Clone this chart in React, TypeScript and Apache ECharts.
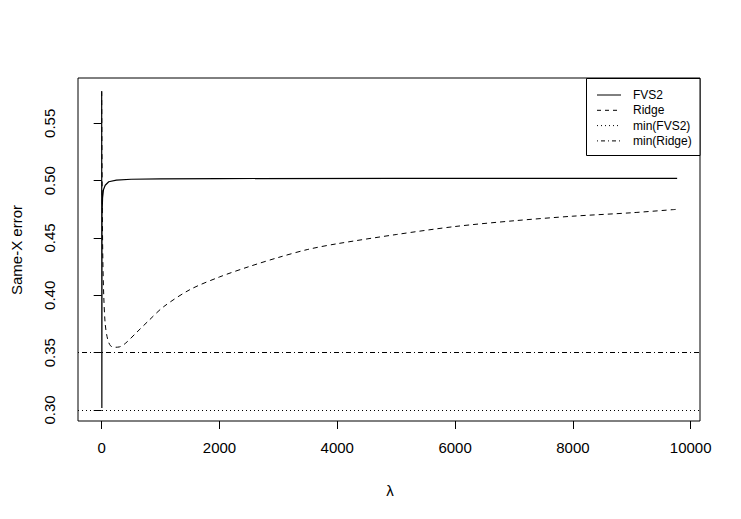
import React, { useEffect, useRef } from "react";
import * as echarts from "echarts";

const xTicks = [0, 2000, 4000, 6000, 8000, 10000];
const yTicks = [0.3, 0.35, 0.4, 0.45, 0.5, 0.55];

const fvs2Lambda = [0, 3, 6, 15, 30, 60, 120, 250, 500, 1000, 2000, 5000, 9770];
const fvs2Error = [0.578, 0.3017, 0.47, 0.485, 0.492, 0.496, 0.499, 0.5005, 0.5012, 0.5016, 0.5018, 0.502, 0.502];

const ridgeLambda = [0, 10, 20, 35, 60, 100, 150, 220, 300, 400, 600, 800, 1050, 1500, 2000, 2500, 3000, 3500, 4000, 5000, 6000, 7000, 8000, 9000, 9770];
const ridgeError = [0.578, 0.48, 0.43, 0.4, 0.375, 0.362, 0.356, 0.3547, 0.355, 0.358, 0.368, 0.378, 0.39, 0.405, 0.416, 0.425, 0.433, 0.44, 0.445, 0.453, 0.46, 0.465, 0.469, 0.472, 0.475];

const minFVS2 = 0.3017;
const minRidge = 0.355;

const legendNames = ["FVS2", "Ridge", "min(FVS2)", "min(Ridge)"];
const legendDash: (number[] | null)[] = [null, [4, 4], [1, 3], [1, 3, 4, 3]];

const FONT = "'Liberation Sans', Arial, Helvetica, sans-serif";

export default function App() {
  const ref = useRef<HTMLDivElement>(null);
  useEffect(() => {
    if (!ref.current) return;
    const chart = echarts.init(ref.current, null, { renderer: "svg" });
    const legendGraphics: any[] = [
      {
        type: "rect",
        shape: { x: 586.5, y: 78.5, width: 113.5, height: 77 },
        style: { fill: "#fff", stroke: "#000", lineWidth: 1 },
        z: 100,
      },
    ];
    legendNames.forEach((name, i) => {
      const y = 95 + i * 15.3;
      legendGraphics.push({
        type: "line",
        shape: { x1: 597, y1: y, x2: 621, y2: y },
        style: { stroke: "#000", lineWidth: 1, lineDash: legendDash[i] || undefined },
        z: 101,
      });
      legendGraphics.push({
        type: "text",
        x: 633,
        y: y,
        style: { text: name, fill: "#000", font: `12px ${FONT}`, textVerticalAlign: "middle", textAlign: "left" },
        z: 101,
      });
    });

    chart.setOption({
      animation: false,
      backgroundColor: "#fff",
      grid: { left: 78, right: 41, top: 78, bottom: 98, show: true, borderColor: "#000", borderWidth: 1, backgroundColor: "transparent" },
      xAxis: {
        type: "value",
        min: -402,
        max: 10158,
        splitLine: { show: false },
        axisLine: { show: false },
        axisTick: { show: true, length: 8, customValues: xTicks, lineStyle: { color: "#000" } },
        axisLabel: { customValues: xTicks, color: "#000", fontSize: 15, fontFamily: FONT, margin: 19, formatter: (v: number) => String(v) },
      },
      yAxis: {
        type: "value",
        min: 0.2904,
        max: 0.5895,
        splitLine: { show: false },
        axisLine: { show: false },
        axisTick: { show: true, length: 8, customValues: yTicks, lineStyle: { color: "#000" } },
        axisLabel: {
          customValues: yTicks,
          rotate: 90,
          color: "#000",
          fontSize: 15,
          fontFamily: FONT,
          margin: 21,
          formatter: (v: number) => v.toFixed(2),
        },
      },
      series: [
        {
          type: "line",
          name: "FVS2",
          data: fvs2Lambda.map((x, i) => [x, fvs2Error[i]]),
          showSymbol: false,
          lineStyle: { color: "#000", width: 1.2 },
          markLine: {
            silent: true,
            symbol: "none",
            label: { show: false },
            data: [
              { yAxis: minFVS2, lineStyle: { color: "#000", width: 1, type: [1, 3] } },
              { yAxis: minRidge, lineStyle: { color: "#000", width: 1, type: [1, 3, 5, 3] } },
            ],
          },
        },
        {
          type: "line",
          name: "Ridge",
          data: ridgeLambda.map((x, i) => [x, ridgeError[i]]),
          showSymbol: false,
          smooth: 0.3,
          lineStyle: { color: "#000", width: 1, type: [5, 4] },
        },
      ],
      graphic: [
        {
          type: "text",
          x: 16,
          y: 250,
          rotation: Math.PI / 2,
          style: { text: "Same-X error", fill: "#000", font: `15px ${FONT}`, textAlign: "center", textVerticalAlign: "middle" },
        },
        {
          type: "text",
          x: 390,
          y: 490,
          style: { text: "λ", fill: "#000", font: `15px ${FONT}`, textAlign: "center", textVerticalAlign: "middle" },
        },
        ...legendGraphics,
      ],
    });
    return () => chart.dispose();
  }, []);
  return <div ref={ref} style={{ width: 741, height: 519, position: "absolute", left: 0, top: 0 }} />;
}
